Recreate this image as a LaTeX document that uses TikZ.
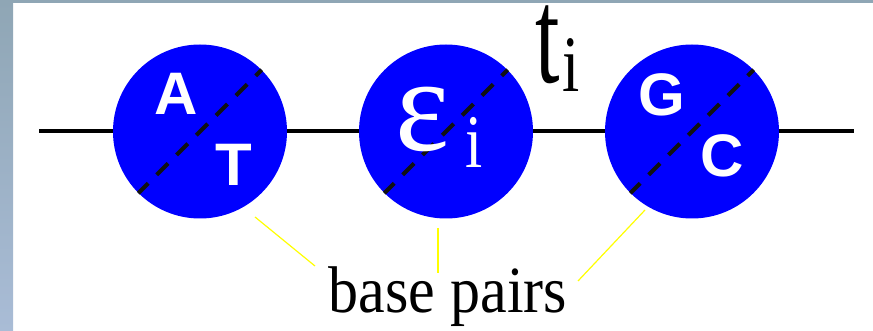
\documentclass[tikz,border=0pt]{standalone}
\usepackage{graphicx}
\usepackage{fontspec}
\setmainfont{Liberation Serif}
\newfontfamily\sansf{Liberation Sans}
\definecolor{framec}{HTML}{8FA6B5}
\definecolor{framel}{HTML}{A9BCD6}
\definecolor{dashc}{HTML}{111111}
\definecolor{pairline}{HTML}{FFFF00}
\tikzset{
  pairball/.style={circle, fill=blue, minimum size=174pt, inner sep=0pt},
  strand/.style={line width=4pt, black},
  bond/.style={line width=4pt, dashc, dash pattern=on 16pt off 12pt, dash phase=2pt},
  baselet/.style={text=white, inner sep=0pt, anchor=base, font=\sansf\bfseries\fontsize{60}{60}\selectfont},
  pointer/.style={pairline, line width=1.2pt},
  serifbig/.style={inner sep=0pt, anchor=base}
}
\begin{document}
\begin{tikzpicture}[x=1pt,y=-1pt]
\useasboundingbox (0,0) rectangle (873,331);
% textured frame
\shade[top color=framec, bottom color=framel] (0,0) rectangle (13,331);
\fill[framec] (0,0) rectangle (873,3.5);
% strand
\coordinate (sl) at (39,131.5);
\coordinate (sr) at (854,131.5);
\node[pairball] (c1) at (200,131.5) {};
\node[pairball] (c2) at (446,131.5) {};
\node[pairball] (c3) at (692,131.5) {};
\draw[strand] (sl) -- (c1.west);
\draw[strand] (c1.east) -- (c2.west);
\draw[strand] (c2.east) -- (c3.west);
\draw[strand] (c3.east) -- (sr);
% bonds
\draw[bond] (c1.225) -- (c1.45);
\draw[bond] (c2.225) -- (c2.45);
\draw[bond] (c3.225) -- (c3.45);
% letters
\node[baselet] (la) at (176,115) {A};
\node[baselet] (lt) at (234,186) {T};
\node[baselet] (lg) at (662,116) {G};
\node[baselet] (lc) at (722,177) {C};
\node[serifbig, text=white, font=\fontsize{117}{117}\selectfont] (eps) at (423,151) {\scalebox{1.1}[1.15]{ε}};
\node[serifbig, text=white, font=\fontsize{62}{62}\selectfont] (epsi) at (474.5,168) {\scalebox{1}[1.22]{i}};
\node[serifbig, font=\fontsize{88}{88}\selectfont] (tt) at (547.5,83) {\scalebox{1}[1.55]{t}};
\node[serifbig, font=\fontsize{62}{62}\selectfont] (ti) at (571.5,92) {\scalebox{1}[1.29]{i}};
% label
\node[serifbig, font=\fontsize{60}{60}\selectfont] (bp) at (448,312) {\scalebox{1}[1.1]{base pairs}};
\coordinate (p1) at (255,217);
\coordinate (p1e) at (315,266);
\coordinate (p2) at (438,228);
\coordinate (p2e) at (438,273);
\coordinate (p3) at (645,210);
\coordinate (p3e) at (578,281);
\draw[pointer] (p1) -- (p1e);
\draw[pointer] (p2) -- (p2e);
\draw[pointer] (p3) -- (p3e);
\end{tikzpicture}
\end{document}
